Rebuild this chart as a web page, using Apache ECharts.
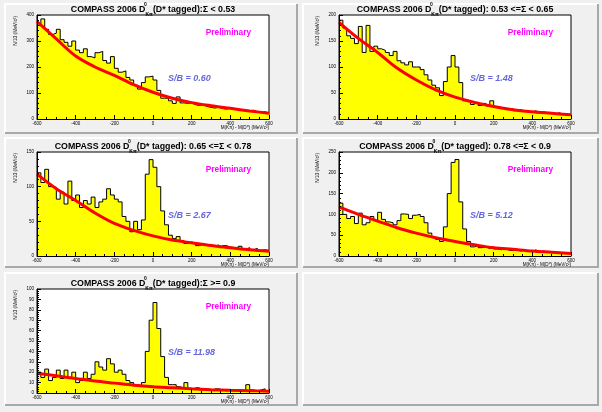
<!DOCTYPE html>
<html><head><meta charset="utf-8">
<script src="https://cdn.jsdelivr.net/npm/echarts@6/dist/echarts.min.js"></script>
<style>html,body{margin:0;padding:0;background:#f0f0f0}#c{width:602px;height:412px}</style>
</head><body><div id="c"></div><script>
const FONT = '"Liberation Sans", Arial, Helvetica, sans-serif';

// bin edges (MeV/c^2)
const binEdges = [-600,-580,-560,-540,-520,-500,-480,-460,-440,-420,-400,-380,-360,-340,-320,-300,-280,-260,-240,-220,-200,-180,-160,-140,-120,-100,-80,-60,-40,-20,0,20,40,60,80,100,120,140,160,180,200,220,240,260,280,300,320,340,360,380,400,420,440,460,480,500,520,540,560,580,600];
const fitX = [-600,-500,-400,-300,-200,-100,0,100,200,300,400,500,600];

// histogram contents per panel
const h1 = [360,385,345,325,330,345,305,295,280,300, 265,255,270,240,235,255,260,225,215,240, 195,180,185,160,150,130,115,140,162,165, 150,110,80,80,70,60,85,62,60,62, 55,52,55,48,45,42,45,40,38,42, 40,35,36,32,30,34,28,25,28,22];
const h2 = [190,175,160,155,145,178,128,180,130,140, 135,132,128,122,130,112,108,104,110,100, 100,95,85,75,65,60,45,72,100,122, 100,70,35,35,28,32,26,30,25,35, 22,20,22,18,20,16,18,15,14,13, 16,12,14,11,12,10,12,9,8,8];
const h3 = [120,106,125,100,99,82,92,75,108,80, 88,70,80,75,85,70,78,82,97,88, 82,78,57,50,35,50,38,52,118,139, 128,100,65,45,30,25,28,22,18,20, 18,15,17,16,15,14,16,12,15,13, 12,11,14,10,12,9,11,8,9,8];
const h4 = [127,100,90,95,78,103,75,80,95,85, 105,88,82,80,75,85,101,100,90,98, 100,95,80,55,45,40,35,70,150,225, 232,130,65,35,22,25,20,22,18,22, 17,15,18,14,13,16,12,14,13,11, 15,10,12,9,10,8,9,7,8,6];
const h5 = [20,15,23,12,15,22,14,22,15,20, 10,12,20,14,18,30,25,22,33,28, 20,22,18,12,10,8,7,10,40,70, 87,62,35,15,8,8,6,5,10,4, 3,5,3,4,3,2,4,3,2,3, 2,3,2,2,8,3,2,3,4,2];

// fitted background curves (read at fitX)
const f1 = [375,308,242,200,168,132,103,80,63,51,41,31,22];
const f2 = [186,155,128,98,75,56,42,32,24,18,14,11,8];
const f3 = [118,97,80,62,47,37,29,23,19,15,12,9,7];
const f4 = [118,100,84,68,55,44,35,27,20,16,12,9,6];
const f5 = [19,16.5,14,11.5,9.5,7.5,6,5,4,3.2,2.6,2.2,1.8];

const yMax = [400,200,150,250,100];
const yStep = [100,50,50,50,10];
const rangeLabels = ['Σ < 0.53',' 0.53 <=Σ < 0.65',' 0.65 <=Σ < 0.78',' 0.78 <=Σ < 0.9','Σ >= 0.9'];
const sbLabels = ['S/B = 0.60','S/B = 1.48','S/B = 2.67','S/B = 5.12','S/B = 11.98'];
const hists = [h1,h2,h3,h4,h5];
const fits = [f1,f2,f3,f4,f5];

// layout
const GW = 232, GH = 104;
const gridPos = [[37,15],[339,15],[37,152],[339,152],[37,289]];
const frames = [[5,4,292,129],[303,4,295,129],[5,138,292,129],[303,138,295,129],[5,273,292,132],[303,273,295,132]];

const grids = [], xAxes = [], yAxes = [], series = [], titles = [], graphics = [];
frames.forEach(([x,y,w,h]) => {
  graphics.push({type:'polyline', silent:true, z:-10, shape:{points:[[x,y+h],[x,y],[x+w,y]]}, style:{stroke:'#ffffff', lineWidth:2, fill:null}});
  graphics.push({type:'polyline', silent:true, z:-10, shape:{points:[[x+w,y],[x+w,y+h],[x,y+h]]}, style:{stroke:'#a9a9a9', lineWidth:2, fill:null}});
});

hists.forEach((h, i) => {
  const [gl, gt] = gridPos[i];
  grids.push({left:gl, top:gt, width:GW, height:GH, show:true, backgroundColor:'#ffffff', borderColor:'#000', borderWidth:1});
  xAxes.push({gridIndex:i, type:'value', min:-600, max:600, interval:200, z:5,
    axisLine:{show:true, onZero:false, lineStyle:{color:'#000', width:1}},
    axisTick:{show:true, inside:true, length:4, lineStyle:{color:'#000'}},
    minorTick:{show:true, splitNumber:4, length:2, lineStyle:{color:'#000'}},
    axisLabel:{fontSize:4.5, color:'#000', margin:2, fontFamily:FONT},
    splitLine:{show:false}});
  yAxes.push({gridIndex:i, type:'value', min:0, max:yMax[i], interval:yStep[i], z:5,
    axisLine:{show:true, onZero:false, lineStyle:{color:'#000', width:1}},
    axisTick:{show:true, inside:true, length:4, lineStyle:{color:'#000'}},
    minorTick:{show:true, splitNumber:5, length:2, lineStyle:{color:'#000'}},
    axisLabel:{fontSize:4.5, color:'#000', margin:3, fontFamily:FONT},
    splitLine:{show:false}});
  series.push({type:'line', xAxisIndex:i, yAxisIndex:i, step:'end', symbol:'none', z:2,
    data: binEdges.map((x,j) => [x, h[Math.min(j, h.length-1)]]),
    lineStyle:{color:'#000', width:1}, areaStyle:{color:'#ffff00', opacity:1}});
  series.push({type:'line', xAxisIndex:i, yAxisIndex:i, smooth:0.35, symbol:'none', z:3,
    data: fitX.map((x,j) => [x, fits[i][j]]),
    lineStyle:{color:'#ff0000', width:3}});
  titles.push({text:'COMPASS 2006 D{sup|0}{sub|Kπ}(D* tagged):' + rangeLabels[i],
    left: gl + GW/2, top: gt - 13, textAlign:'center', padding:0,
    textStyle:{fontSize:8.8, fontWeight:'bold', color:'#000', fontFamily:FONT, lineHeight:15,
      rich:{
        sup:{fontSize:5, fontWeight:'bold', color:'#000', fontFamily:FONT, verticalAlign:'top', lineHeight:6, width:0},
        sub:{fontSize:5, fontWeight:'bold', color:'#000', fontFamily:FONT, verticalAlign:'bottom', lineHeight:6}
      }}});
  graphics.push({type:'text', x: gl - 21, y: gt + 1, rotation: Math.PI/2, silent:true,
    style:{text:'N/10 (MeV/c²)', fontSize:4.8, fontFamily:FONT, fill:'#000', align:'right', verticalAlign:'middle'}});
  graphics.push({type:'text', x: gl + GW, y: gt + GH + 9, silent:true,
    style:{text:'M(Kπ) - M(D⁰) (MeV/c²)', fontSize:4.6, fontFamily:FONT, fill:'#000', align:'right', verticalAlign:'middle'}});
  graphics.push({type:'text', x: gl + GW - 18, y: gt + 18, silent:true,
    style:{text:'Preliminary', fontSize:8.3, fontWeight:'bold', fontFamily:FONT, fill:'#ff00ff', align:'right', verticalAlign:'middle'}});
  graphics.push({type:'text', x: gl + 131, y: gt + 64, silent:true,
    style:{text:sbLabels[i], fontSize:9, fontWeight:'bold', fontStyle:'italic', fontFamily:FONT, fill:'#6666dd', align:'left', verticalAlign:'middle'}});
});

const chart = echarts.init(document.getElementById('c'), null, {renderer:'canvas'});
chart.setOption({
  animation:false,
  backgroundColor:'#f0f0f0',
  title: titles,
  grid: grids, xAxis: xAxes, yAxis: yAxes, series: series,
  graphic: graphics
});
</script></body></html>
